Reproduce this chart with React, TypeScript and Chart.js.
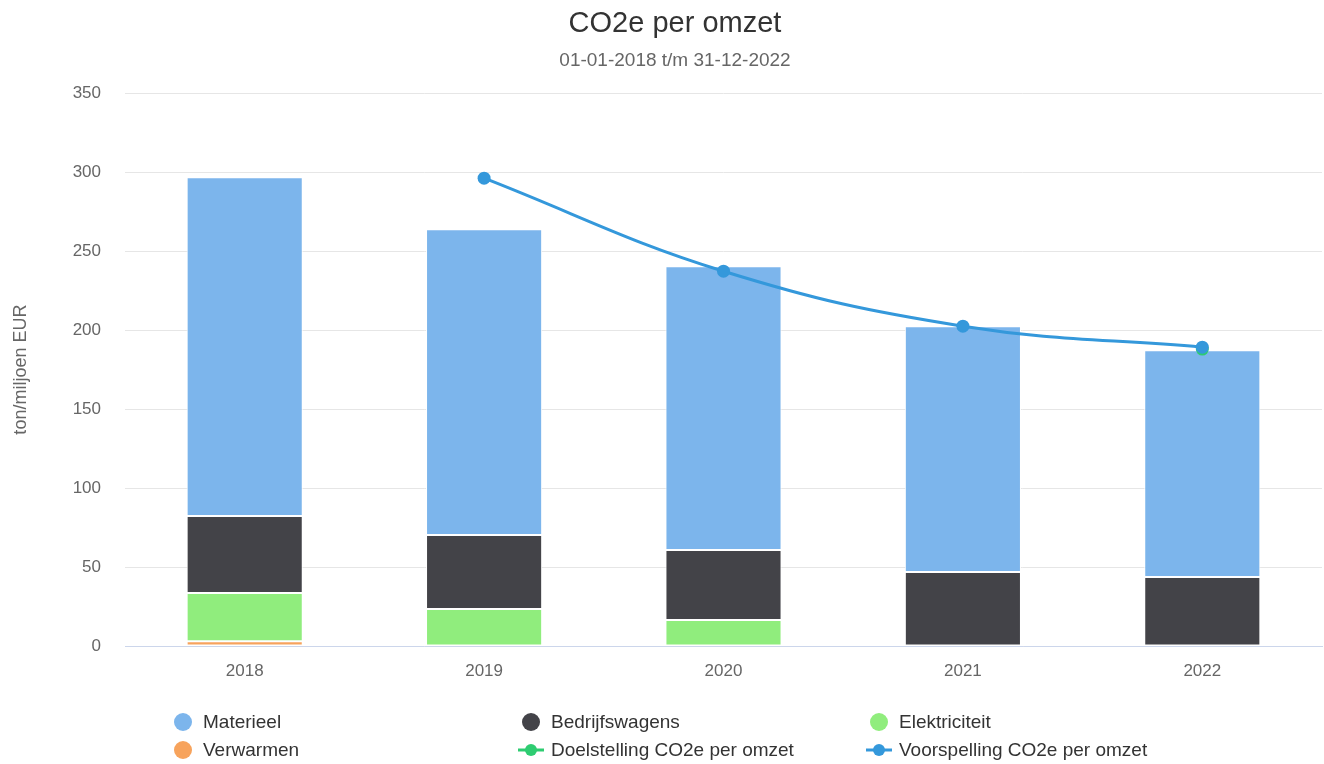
import React, { useEffect, useRef } from 'react';
import { Chart, registerables } from 'chart.js';

Chart.register(...registerables);

const categories = ['2018', '2019', '2020', '2021', '2022'];
const verwarmen = [3, 0, 0, 0, 0];
const elektriciteit = [30.5, 23.4, 16.5, 0, 0];
const bedrijfswagens = [48.8, 46.9, 44.3, 46.8, 43.7];
const materieel = [214.5, 193.5, 179.7, 155.7, 143.6];
const doelstelling = [null, null, null, null, 188];
const voorspelling = [null, 296.2, 237.3, 202.5, 189.2];
const yMin = 0;
const yMax = 350;
const yStep = 50;

const titleText = 'CO2e per omzet';
const subtitleText = '01-01-2018 t/m 31-12-2022';
const yTitleText = 'ton/miljoen EUR';

const FONT = "'Liberation Sans', Arial, Helvetica, sans-serif";

// legend order: indices into datasets
const legendOrder = [3, 2, 1, 0, 4, 5];

const gridLegendPlugin = {
  id: 'gridLegend',
  afterDraw(chart: any) {
    const ctx = chart.ctx;
    const ds = chart.data.datasets;
    const colX0 = 174;
    const colW = 348;
    const rowY0 = 722;
    const rowH = 28;
    ctx.save();
    ctx.font = `19px ${FONT}`;
    ctx.textBaseline = 'middle';
    ctx.textAlign = 'left';
    legendOrder.forEach((dsIndex, i) => {
      const d = ds[dsIndex];
      const col = i % 3;
      const row = Math.floor(i / 3);
      const x = colX0 + col * colW;
      const y = rowY0 + row * rowH;
      const color = d.type === 'line' ? d.borderColor : d.backgroundColor;
      if (d.type === 'line') {
        ctx.strokeStyle = color;
        ctx.lineWidth = 3;
        ctx.beginPath();
        ctx.moveTo(x - 4, y);
        ctx.lineTo(x + 22, y);
        ctx.stroke();
        ctx.fillStyle = color;
        ctx.beginPath();
        ctx.arc(x + 9, y, 6, 0, Math.PI * 2);
        ctx.fill();
      } else {
        ctx.fillStyle = color;
        ctx.beginPath();
        ctx.arc(x + 9, y, 9, 0, Math.PI * 2);
        ctx.fill();
      }
      ctx.fillStyle = '#333333';
      ctx.fillText(d.label, x + 29, y + 1);
    });
    ctx.restore();
  },
};

export default function App() {
  const canvasRef = useRef<HTMLCanvasElement | null>(null);

  useEffect(() => {
    if (!canvasRef.current) return;
    const barCommon = {
      type: 'bar' as const,
      borderColor: '#ffffff',
      borderWidth: 1,
      borderSkipped: false,
      barPercentage: 0.485,
      categoryPercentage: 1,
      stack: 'bars',
      order: 2,
    };
    const chart = new Chart(canvasRef.current, {
      type: 'bar',
      data: {
        labels: categories,
        datasets: [
          { ...barCommon, label: 'Verwarmen', data: verwarmen, backgroundColor: '#f7a35c' },
          { ...barCommon, label: 'Elektriciteit', data: elektriciteit, backgroundColor: '#90ed7d' },
          { ...barCommon, label: 'Bedrijfswagens', data: bedrijfswagens, backgroundColor: '#434348' },
          { ...barCommon, label: 'Materieel', data: materieel, backgroundColor: '#7cb5ec' },
          {
            type: 'line',
            label: 'Doelstelling CO2e per omzet',
            data: doelstelling,
            borderColor: '#2ecc71',
            backgroundColor: '#2ecc71',
            borderWidth: 3,
            pointRadius: 6.5,
            pointBorderWidth: 0,
            tension: 0.4,
            stack: 'line1',
            order: 1,
          },
          {
            type: 'line',
            label: 'Voorspelling CO2e per omzet',
            data: voorspelling,
            borderColor: '#3498db',
            backgroundColor: '#3498db',
            borderWidth: 3,
            pointRadius: 6.5,
            pointBorderWidth: 0,
            tension: 0.4,
            stack: 'line2',
            order: 0,
          },
        ] as any,
      },
      options: {
        animation: false,
        responsive: true,
        maintainAspectRatio: false,
        layout: { padding: { left: 0, right: 0, top: 0, bottom: 0 } },
        font: { family: FONT },
        plugins: {
          legend: { display: false },
          tooltip: { enabled: false },
          title: {
            display: true,
            text: titleText,
            color: '#333333',
            font: { family: FONT, size: 29, weight: 'normal' },
            padding: { top: 7, bottom: 7 },
          },
          subtitle: {
            display: true,
            text: subtitleText,
            color: '#666666',
            font: { family: FONT, size: 19, weight: 'normal' },
            padding: { top: 1, bottom: 20.6 },
          },
        },
        scales: {
          x: {
            stacked: true,
            grid: { display: false },
            border: { display: true, color: '#ccd6eb', width: 1 },
            ticks: { color: '#666666', font: { family: FONT, size: 17 }, padding: 7 },
            afterFit: (s: any) => {
              s.height = 118;
            },
          },
          y: {
            stacked: true,
            min: yMin,
            max: yMax,
            ticks: {
              stepSize: yStep,
              color: '#666666',
              font: { family: FONT, size: 17 },
              padding: 24,
            },
            grid: { color: '#e6e6e6', drawTicks: false, lineWidth: 1 },
            border: { display: false },
            title: {
              display: true,
              text: yTitleText,
              color: '#666666',
              font: { family: FONT, size: 18 },
              padding: { top: 10, bottom: 0 },
            },
            afterFit: (s: any) => {
              s.width = 125;
            },
          },
          yRightSpacer: {
            type: 'linear',
            position: 'right',
            display: true,
            min: yMin,
            max: yMax,
            grid: { display: false, drawTicks: false },
            border: { display: false },
            ticks: { display: false },
            afterFit: (s: any) => {
              s.width = 28;
            },
          },
        },
      } as any,
      plugins: [gridLegendPlugin],
    });
    return () => chart.destroy();
  }, []);

  return (
    <div
      style={{
        position: 'absolute',
        left: 0,
        top: 0,
        width: 1324,
        height: 764,
        overflow: 'hidden',
        background: '#ffffff',
      }}
    >
      <div style={{ position: 'relative', width: 1350, height: 764 }}>
        <canvas ref={canvasRef} />
      </div>
    </div>
  );
}
